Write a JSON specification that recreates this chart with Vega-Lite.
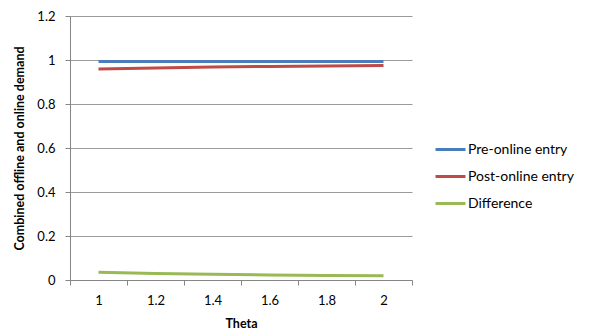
{
  "$schema": "https://vega.github.io/schema/vega-lite/v6.json",
  "width": 342,
  "height": 264,
  "autosize": "none",
  "padding": {"left": 70, "top": 16, "right": 180, "bottom": 51},
  "background": "white",
  "config": {
    "font": "Lato",
    "view": {"stroke": null},
    "axis": {"labelFont": "Lato", "titleFont": "Lato", "labelColor": "#000", "titleColor": "#000"}
  },
  "data": {
    "values": [
      {"theta": "1", "series": "Pre-online entry", "value": 0.993},
      {"theta": "1.2", "series": "Pre-online entry", "value": 0.993},
      {"theta": "1.4", "series": "Pre-online entry", "value": 0.993},
      {"theta": "1.6", "series": "Pre-online entry", "value": 0.993},
      {"theta": "1.8", "series": "Pre-online entry", "value": 0.993},
      {"theta": "2", "series": "Pre-online entry", "value": 0.993},
      {"theta": "1", "series": "Post-online entry", "value": 0.959},
      {"theta": "1.2", "series": "Post-online entry", "value": 0.964},
      {"theta": "1.4", "series": "Post-online entry", "value": 0.968},
      {"theta": "1.6", "series": "Post-online entry", "value": 0.971},
      {"theta": "1.8", "series": "Post-online entry", "value": 0.973},
      {"theta": "2", "series": "Post-online entry", "value": 0.975},
      {"theta": "1", "series": "Difference", "value": 0.035},
      {"theta": "1.2", "series": "Difference", "value": 0.030},
      {"theta": "1.4", "series": "Difference", "value": 0.026},
      {"theta": "1.6", "series": "Difference", "value": 0.023},
      {"theta": "1.8", "series": "Difference", "value": 0.021},
      {"theta": "2", "series": "Difference", "value": 0.019}
    ]
  },
  "mark": {"type": "line", "strokeWidth": 3, "strokeCap": "butt"},
  "encoding": {
    "x": {
      "field": "theta",
      "type": "ordinal",
      "sort": ["1", "1.2", "1.4", "1.6", "1.8", "2"],
      "bandPosition": 0.5,
      "scale": {"type": "band", "paddingInner": 0, "paddingOuter": 0},
      "axis": {
        "title": "Theta",
        "titleFontSize": 12.5,
        "titleFontWeight": "bold",
        "titlePadding": 10,
        "labelFontSize": 13,
        "labelAngle": 0,
        "labelPadding": 9,
        "tickBand": "extent",
        "tickSize": 5,
        "tickColor": "#868686",
        "domainColor": "#868686",
        "grid": false
      }
    },
    "y": {
      "field": "value",
      "type": "quantitative",
      "scale": {"domain": [0, 1.2], "nice": false},
      "axis": {
        "title": "Combined offline and online demand",
        "titleFontSize": 12.5,
        "titleFontWeight": "bold",
        "titlePadding": 10,
        "values": [0, 0.2, 0.4, 0.6, 0.8, 1, 1.2],
        "format": "~g",
        "labelFontSize": 13,
        "labelPadding": 10,
        "tickSize": 5,
        "tickColor": "#868686",
        "domainColor": "#868686",
        "gridColor": "#9a9a9a",
        "grid": true
      }
    },
    "color": {
      "field": "series",
      "type": "nominal",
      "sort": ["Pre-online entry", "Post-online entry", "Difference"],
      "scale": {
        "domain": ["Pre-online entry", "Post-online entry", "Difference"],
        "range": ["#4A7EBB", "#BE4B48", "#98B954"]
      },
      "legend": {
        "title": null,
        "orient": "none",
        "legendX": 364,
        "legendY": 117,
        "symbolType": "stroke",
        "symbolSize": 900,
        "symbolStrokeWidth": 3,
        "labelFontSize": 14,
        "labelOffset": 1,
        "rowPadding": 3
      }
    }
  }
}
